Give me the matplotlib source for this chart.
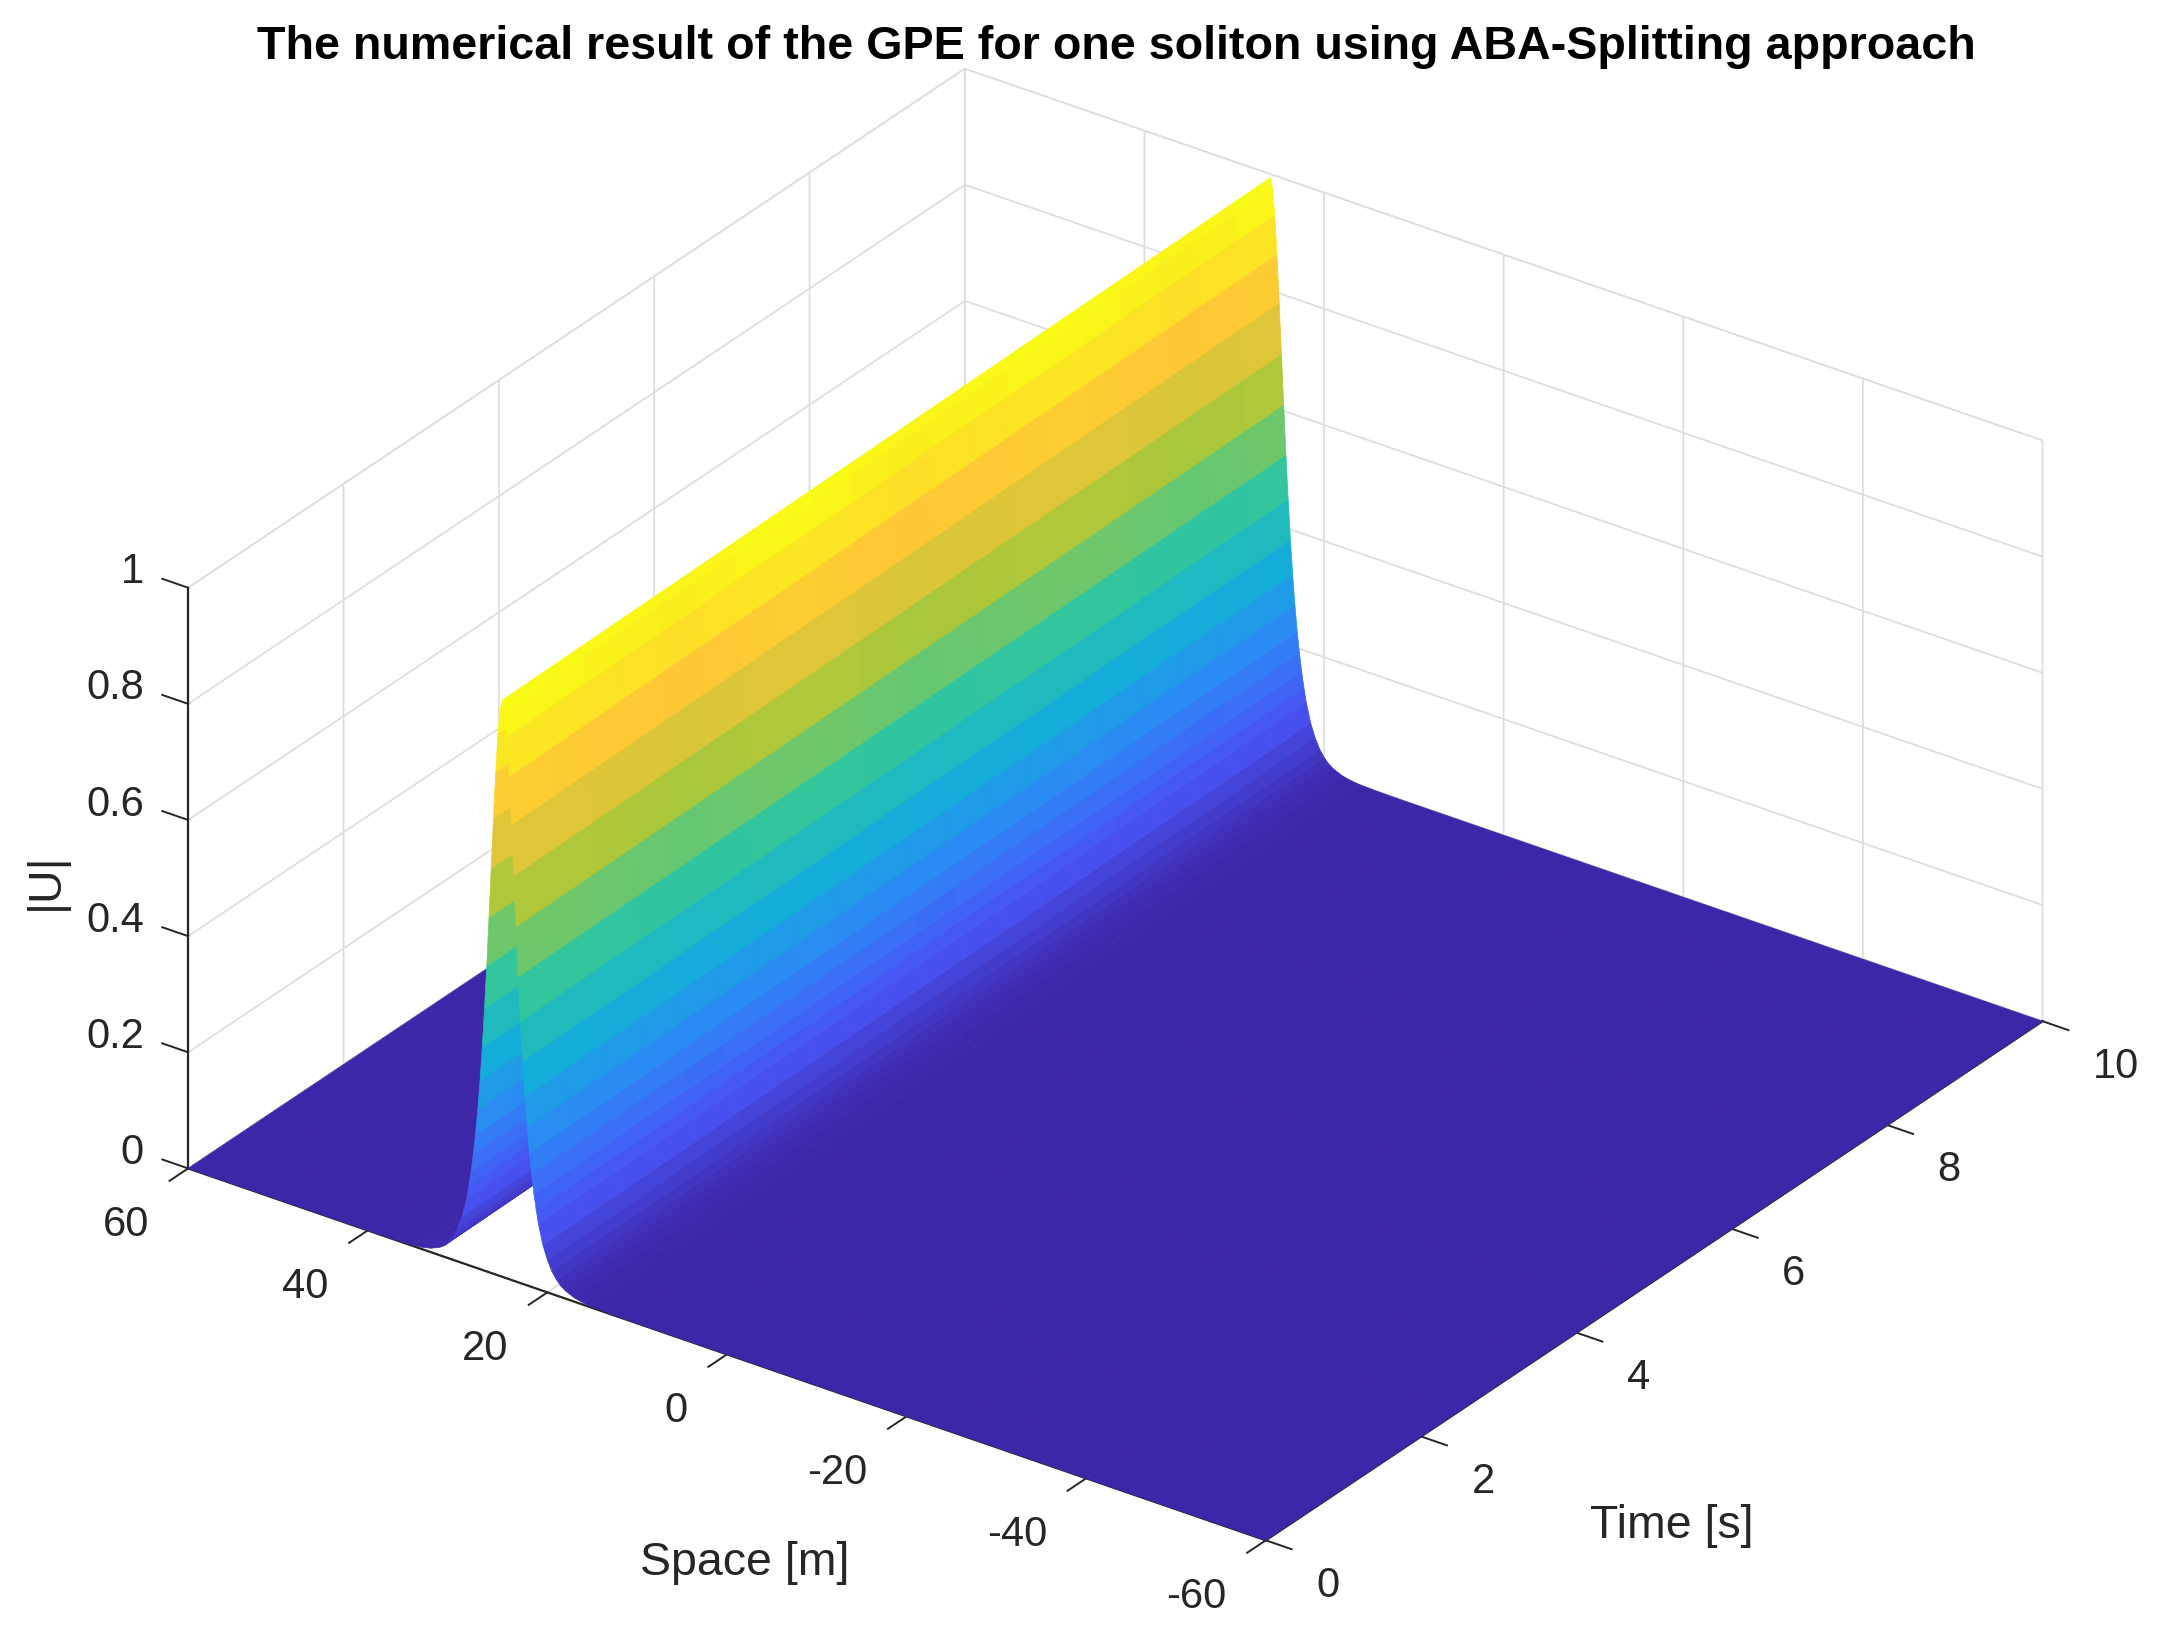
import matplotlib
matplotlib.use("Agg")
import matplotlib.pyplot as plt
import numpy as np
from matplotlib.colors import LinearSegmentedColormap

plt.rcParams['font.family'] = ['Liberation Sans', 'DejaVu Sans']
plt.rcParams['axes.unicode_minus'] = False

# values
time_s = [0, 0.5, 1, 1.5, 2, 2.5, 3, 3.5, 4, 4.5, 5, 5.5, 6, 6.5, 7, 7.5, 8, 8.5, 9, 9.5, 10]
soliton_center = [25, 25.05, 25.1, 25.15, 25.2, 25.25, 25.3, 25.35, 25.4, 25.45, 25.5, 25.55, 25.6, 25.65, 25.7, 25.75, 25.8, 25.85, 25.9, 25.95, 26]
colour_amp = [1.0, 0.995, 0.99, 0.985, 0.98, 0.985, 0.995, 1.0, 0.995, 0.985, 0.98, 0.985, 0.99, 0.995, 1.0, 0.995, 0.985, 0.98, 0.985, 0.995, 1.0]
offset = [0, 0.25, 0.5, 0.75, 1, 1.25, 1.5, 1.75, 2, 2.25, 2.5, 2.75, 3, 3.25, 3.5, 3.75, 4, 4.5, 5, 5.5, 6, 6.5, 7, 8, 9, 10, 12, 15, 20, 25, 30, 35, 40, 45, 50, 55, 60, 65, 70, 75, 80, 85]
profile = [0.993, 0.977, 0.933, 0.866, 0.784, 0.697, 0.611, 0.526, 0.451, 0.383, 0.324, 0.273, 0.229, 0.194, 0.162, 0.136, 0.113, 0.079, 0.056, 0.039, 0.0275, 0.019, 0.0135, 0.0066, 0.0032, 0.0016, 0.0004, 0, 0, 0, 0, 0, 0, 0, 0, 0, 0, 0, 0, 0, 0, 0]
space_ticks = [-60, -40, -20, 0, 20, 40, 60]
time_ticks = [0, 2, 4, 6, 8, 10]
u_ticks = [0, 0.2, 0.4, 0.6, 0.8, 1]
u_labels = ['0', '0.2', '0.4', '0.6', '0.8', '1']
space_labels = ['-60', '-40', '-20', '0', '20', '40', '60']
time_labels = ['0', '2', '4', '6', '8', '10']

parula = LinearSegmentedColormap.from_list("parula", [
    (0.2422, 0.1504, 0.6603), (0.2810, 0.3228, 0.9579), (0.1786, 0.5289, 0.9682),
    (0.0689, 0.6948, 0.8394), (0.2161, 0.7843, 0.5923), (0.6720, 0.7793, 0.2227),
    (0.9970, 0.7659, 0.2199), (0.9769, 0.9839, 0.0805)])

off = np.array(offset, dtype=float)
prof = np.array(profile)
rel = np.concatenate([-off[::-1], off[1:]])
u_space = np.concatenate([prof[::-1], prof[1:]])
center = np.array(soliton_center)
keep = (rel + 25 >= -60) & (rel + 25 <= 60)
rel, u_space = rel[keep], u_space[keep]

T = np.outer(np.ones(len(rel)), np.array(time_s, dtype=float))
S = np.outer(rel, np.ones(len(time_s))) + 25
# only the ridge moves, the flat ends stay on the box
inner = np.abs(rel) <= 20
S[inner, :] += (center - 25)
U = np.outer(u_space, np.ones(len(time_s)))
# each tile takes the colour of its higher edge, the tail reads a bit lighter
tile_u = u_space.copy()
tile_u[:-1] = np.maximum(u_space[:-1], u_space[1:])
col_u = (np.outer(tile_u, np.array(colour_amp)) / 0.993) ** 0.92

W, H = 2158, 1633
fig = plt.figure(figsize=(W / 100, H / 100), dpi=100)
side = 2800
left = 1115.3 - 0.5135 * side
bottom = 827.5 - 0.5135 * side
ax = fig.add_axes([left / W, bottom / H, side / W, side / H], projection='3d', proj_type='ortho')
ax.view_init(elev=28.7, azim=215.7)
ax.set_box_aspect((1331, 1327, 662), zoom=1934.5 / side)

ax.plot_surface(T, S, U, facecolors=parula(np.clip(col_u, 0, 1)), rstride=1, cstride=1, shade=False, linewidth=0.5)

ax.set_xlim(0, 10, view_margin=0)
ax.set_ylim(-60, 60, view_margin=0)
ax.set_zlim(0, 1, view_margin=0)
ax.set_xticks(time_ticks)
ax.set_xticklabels(time_labels)
ax.set_yticks(space_ticks)
ax.set_yticklabels(space_labels)
ax.set_zticks(u_ticks)
ax.set_zticklabels(u_labels)

# z ticks point along the space direction like in matlab
ax.zaxis._get_tickdir = lambda position: 1

for a in (ax.xaxis, ax.yaxis, ax.zaxis):
    a.set_pane_color((1, 1, 1, 1))
    a.pane.set_edgecolor('#dcdcdc')
    a.line.set_color('#262626')
    a.line.set_linewidth(1.6)
    a._axinfo['grid'].update(color='#dedede', linewidth=1.3)
    a._axinfo['tick'].update(inward_factor=0, outward_factor=-0.3)
    a._axinfo['tick']['linewidth'] = {True: 1.4, False: 1.0}
ax.zaxis._axinfo['tick']['outward_factor'] = 0.3

ax.xaxis.set_tick_params(labelsize=30, labelcolor='#262626', colors='#262626', pad=41)
ax.yaxis.set_tick_params(labelsize=30, labelcolor='#262626', colors='#262626', pad=45)
ax.zaxis.set_tick_params(labelsize=30, labelcolor='#262626', colors='#262626', pad=17)
plt.setp(ax.get_xticklabels(), ha='left', va='center')
plt.setp(ax.get_yticklabels(), ha='right', va='center')
plt.setp(ax.get_zticklabels(), ha='right', va='bottom')

fig.text(744.6 / W, 1 - 1563 / H, 'Space [m]', fontsize=33.5, color='#262626', ha='center', va='center')
fig.text(1672 / W, 1 - 1526 / H, 'Time [s]', fontsize=33.5, color='#262626', ha='center', va='center')
fig.text(45.4 / W, 1 - 881 / H, '|U|', fontsize=33.5, color='#262626', rotation=90, ha='center', va='center')

fig.text(1116 / W, 1 - 47 / H, 'The numerical result of the GPE for one soliton using ABA-Splitting approach',
         fontsize=33.6, fontweight='bold', ha='center', va='center', color='black')

fig.savefig('out.png', dpi=100, facecolor='white')
